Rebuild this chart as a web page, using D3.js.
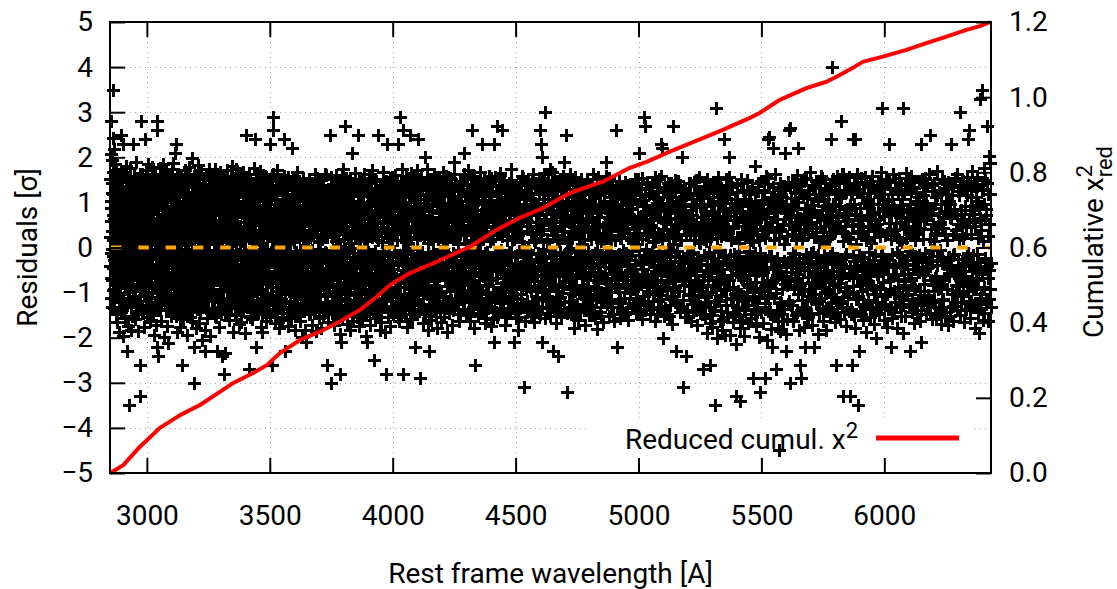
<!DOCTYPE html>
<html>
<head>
<meta charset="utf-8">
<script src="https://cdn.jsdelivr.net/npm/d3@7"></script>
<style>
  body { margin: 0; background: #fff; }
  svg { display: block; font-family: Roboto, "Noto Sans", sans-serif; }
</style>
</head>
<body>
<div id="chart"></div>
<script>
// fit residuals in hundredths of sigma, even spectral pixels (200 per block)
var residA = [
  152,-41,208,87,280,-113,36,194,-72,121,243,350,-18,167,-135,64,218,-92,11,185,
  -58,132,47,-147,96,-23,171,-166,73,5,-104,149,28,-79,113,-188,57,-31,162,-121,
  84,-9,137,-54,19,250,-142,101,-67,43,168,-27,-196,230,-113,77,12,-61,126,-38,
  54,-157,93,-14,181,-86,31,-124,146,-230,68,-45,117,2,-173,89,-98,38,-350,154,
  -21,109,-69,176,48,-132,7,139,-183,61,-37,124,-8,-151,82,230,-64,26,158,-109,
  45,-17,131,-96,71,-148,14,190,-33,98,-72,153,-4,-127,59,117,-185,34,-52,141,
  66,-118,-260,-330,107,-28,280,-81,22,164,-143,52,-11,128,-95,75,-62,149,9,-176,
  118,-43,240,-107,63,-19,172,-135,29,96,-77,141,-153,47,13,-99,186,-24,81,-129,
  35,-64,144,-6,-163,92,57,-111,124,-39,16,178,-87,66,-142,108,-15,41,-195,134,
  -52,87,-121,163,25,-78,115,-36,-171,260,280,-220,61,-240,138,-97,19,-58,147,-12
];
var residB = [
  128,-84,51,-139,176,9,-47,103,-162,68,-22,145,-116,37,186,-71,14,-198,92,-35,
  157,-126,43,-58,119,-9,168,-91,72,-174,27,134,-44,-212,81,-137,156,6,-66,112,
  -17,148,-104,58,-151,91,33,-79,174,-26,121,-145,64,-11,187,-93,39,-122,105,-57,
  210,-33,146,-118,230,76,-69,133,-15,-187,54,-101,162,21,-148,97,-42,118,-176,69,
  7,-94,153,-129,84,-21,126,-260,48,-67,142,-158,29,-39,112,-107,78,171,-84,13,
  -132,95,-12,163,-71,41,-195,124,-48,139,-116,62,-3,179,-88,23,-143,107,-54,151,
  -25,86,-125,34,136,-62,-164,198,-97,52,-14,-220,115,-300,72,-79,160,-131,45,-42,
  119,-178,66,-19,144,-113,31,-56,184,-86,98,-36,127,-167,58,-2,-141,104,-74,166,
  -31,133,-102,48,-205,91,16,-123,152,-61,118,-39,76,-184,-230,137,-49,27,-109,164,
  82,-156,43,-17,127,-134,69,-81,174,-24,113,-197,56,-64,141,-92,18,158,-118,37
];
var residC = [
  -47,121,-93,162,24,-138,78,-16,145,-109,56,-71,173,-28,98,-154,41,-60,-230,133,
  12,-117,149,-42,86,-176,61,-5,127,-96,167,-37,103,-148,29,-83,-240,142,-21,74,
  -128,158,-66,97,-10,-280,134,-51,-235,18,-143,112,-79,171,-34,65,-119,146,3,-90,
  124,-45,87,-161,36,107,-22,-135,159,-73,49,-8,181,-104,71,-56,137,-187,15,96,
  -63,139,-112,58,-28,174,-91,33,-149,117,-14,83,-127,163,-47,102,-170,22,131,-76,
  46,-103,152,-37,89,-166,14,128,-58,76,-140,167,-19,99,-121,43,-79,157,-7,-190,
  113,-52,250,-94,67,-131,27,-18,148,-85,57,-270,118,-41,163,-108,35,-65,141,-152,
  88,-26,124,-159,51,-72,135,-3,-116,176,-48,93,-134,28,240,-61,109,-220,-12,153,
  -98,71,-39,144,-145,16,-81,126,54,-122,169,-31,82,-177,39,-55,132,-94,6,-188,
  161,-67,105,-24,-139,87,-8,152,-113,44,-74,136,-162,62,21,-101,147,-43,78,-128
];
var residD = [
  64,-118,139,-42,97,230,-153,28,-74,112,-11,-260,156,-88,43,260,290,-136,79,-25,
  121,-61,14,-167,105,-33,148,-97,52,-142,171,-19,86,-113,31,-58,134,-179,68,-4,
  -126,93,-48,152,-84,27,-161,116,-15,73,-132,45,159,240,-67,108,-230,36,-102,141,
  -39,82,-145,19,127,-91,62,-8,-174,138,-54,97,-121,34,-69,147,-157,74,-23,220,
  -86,113,41,-139,156,-27,89,-108,12,-63,131,-182,57,-45,102,-129,168,-16,79,-95,
  143,-53,26,-146,94,-78,119,-31,-163,65,-9,137,-115,48,-198,82,-41,154,-122,37,
  -71,128,-106,17,-184,91,-24,-210,141,-57,66,-134,-13,118,-90,39,151,-72,98,-148,
  23,-117,134,-38,76,-171,52,-6,144,-98,31,-65,127,-139,88,-22,163,-111,47,-186,
  109,-44,71,-126,-3,149,-83,56,-157,124,-29,94,-105,15,137,-62,-178,81,-35,118,
  -151,68,-19,136,-92,42,-131,107,-56,164,-12,-143,85,-74,-260,126,-47,59,-165,99
];
var residE = [
  -58,124,-97,41,250,-133,86,-300,157,-21,109,-146,63,-6,138,-82,27,-172,115,-39,
  92,-125,161,-49,14,-103,146,-68,35,-158,128,-17,81,-117,52,-192,-280,74,-210,139,
  -43,107,-151,62,-11,173,-89,132,-36,-140,96,-64,270,-114,48,-23,153,-99,76,-169,
  118,-52,29,-128,144,-7,87,-184,61,-78,134,-33,102,-147,210,-56,119,-13,-162,83,
  37,-121,166,-72,24,-106,139,-45,93,-153,58,-29,250,-88,114,-174,46,-2,125,-135,
  -64,152,-18,98,-127,71,-160,33,117,-84,52,-149,162,-25,86,-111,19,-196,131,-47,
  -210,79,-138,46,-9,155,-101,124,-59,28,-171,94,-31,143,-118,63,-76,171,-15,104,
  -136,57,-250,113,-48,81,-157,26,-92,147,-64,39,-123,250,-37,105,-143,67,-19,-182,
  129,-82,44,-166,97,-27,136,-112,55,-8,168,-131,71,-53,113,-187,32,-69,-280,148,
  -96,230,-39,118,-154,61,-14,139,-103,84,-175,27,155,-62,96,-129,43,-34,121,-147
];
var residF = [
  133,-58,87,-142,29,-96,161,-17,112,-125,54,-71,148,-38,95,230,-163,68,-22,137,
  -109,290,43,-152,119,-66,174,-31,82,260,-280,136,-88,17,-134,101,-49,158,-118,61,
  -7,124,-176,72,-44,143,-101,35,-63,250,-139,92,-26,165,-82,47,-158,113,-12,79,
  -121,148,-55,-220,106,-33,129,-147,64,-4,171,-93,38,240,-116,85,-61,152,-290,31,
  117,-74,156,-128,49,-19,134,-105,73,-167,22,-46,142,200,-89,61,-138,108,-28,173,
  -61,93,-184,35,127,-230,-112,68,-37,149,-96,18,-161,116,-52,84,-129,44,-8,137,
  -83,162,-29,106,-142,57,-71,131,-14,-179,92,-48,151,-106,26,-124,79,-58,143,-166,
  38,-99,121,-35,167,-118,66,-11,-154,98,-67,138,-131,47,-24,159,-86,12,-187,114,
  -42,73,-145,126,-63,33,-113,152,-26,94,-171,56,-78,131,-139,21,-51,164,190,-97,
  103,-126,45,-16,136,-91,69,-147,114,-38,82,-162,27,-59,145,-104,58,-33,126,-73
];
var residG = [
  92,-137,46,-18,163,210,-84,118,-52,27,-149,87,-31,141,-107,64,-9,172,-121,38,
  -66,129,-163,73,-24,154,-97,260,41,-132,108,-58,17,-178,96,-260,-41,147,-114,56,
  126,-29,83,-152,34,-71,139,-118,62,-7,168,-96,49,-145,114,230,-63,22,-126,153,
  -38,97,-168,61,-13,142,-104,76,-57,131,-134,25,-86,116,-47,158,-119,68,-30,-175,
  105,-73,136,-21,48,-159,92,230,-210,64,-112,157,-36,89,-143,270,-68,121,-17,-148,
  78,-46,139,-124,31,166,-92,54,-18,260,-137,73,-59,148,-107,36,-171,111,-27,84,
  -155,124,-63,17,-121,95,-38,142,-82,58,-146,113,-11,173,-98,43,-67,137,-129,26,
  92,-52,-210,118,-34,71,-157,136,-16,89,-113,51,-184,127,-44,97,-135,63,-8,145,
  -103,36,-69,158,-127,81,-22,-310,115,-48,67,-162,138,-31,94,-119,58,-74,151,-5,
  119,-141,47,-87,133,-26,74,-152,105,-58,29,-124,163,-41,86,-166,12,-63,142,-95
];
var residH = [
  48,-113,137,-62,91,-28,154,-146,73,-15,260,-88,230,41,200,-131,-210,107,-45,162,
  -97,64,-21,300,-157,83,-39,128,-108,19,-72,145,-135,52,-4,173,-118,96,-56,38,
  121,-81,167,-34,-230,103,-139,59,-12,148,-96,27,-168,114,-49,81,-127,-240,136,-63,
  15,-109,152,-42,74,-154,98,-26,133,-87,47,-17,190,-136,62,-74,119,250,-51,86,
  -320,142,-31,101,-119,58,-8,163,-91,34,-147,117,-65,23,138,-104,71,-178,45,-23,
  156,-84,29,-128,112,-42,88,-161,66,-11,131,-99,42,-143,106,-57,149,-19,77,-131,
  53,-68,124,-14,-172,97,-36,141,-112,61,-85,152,-27,83,-149,36,-62,126,-104,18,
  138,-45,91,-133,57,-21,164,-94,32,-156,109,-72,45,-117,151,-6,-181,85,-39,122,
  -56,33,-144,117,-17,78,-121,143,-64,26,-166,99,-33,136,-101,52,-79,158,190,-125,
  67,-11,132,-89,41,-151,104,-46,86,-114,22,-58,147,-132,74,-27,118,-163,55,-87
];
var residI = [
  114,-67,260,-31,-220,92,-123,48,-14,137,-98,71,-156,24,119,-42,83,-135,56,-9,
  128,-112,37,-64,146,-24,95,-143,62,-87,108,-19,-161,74,-38,134,-101,21,-72,117,
  -53,88,-129,13,141,-93,57,-27,124,-146,43,-62,97,-114,31,152,-76,-5,210,-121,
  66,-34,132,-81,19,-159,106,-47,79,-125,290,54,270,-16,-137,93,-58,141,-88,28,
  -104,118,-23,71,-148,46,-69,135,-11,87,-131,61,-39,146,-96,14,-162,109,-52,83,
  125,-77,33,-118,98,-8,152,-106,67,230,-29,220,-141,93,-200,39,-85,128,-17,61,
  -134,84,-49,113,-92,27,142,-63,-151,76,-31,119,-108,52,-6,-169,97,270,-74,42,
  134,-116,65,-22,-230,101,-57,29,-128,148,-41,82,-97,17,139,-142,56,-64,111,200,
  -35,91,-310,125,-84,48,-153,73,-240,116,-19,-138,63,-46,143,-102,27,-71,121,-162,
  84,-28,108,-143,57,-9,136,-88,37,-119,95,-52,149,-171,46,-36,117,-97,12,-131
];
var residJ = [
  97,-142,53,-28,126,-87,41,-270,109,-63,18,-156,132,-104,74,-189,-36,147,-121,62,
  -13,113,-167,-260,-52,139,-98,29,-176,104,-41,71,-138,-84,146,-350,310,57,-201,123,
  82,-118,157,-47,96,-162,36,-108,131,-69,-183,115,-16,88,240,-66,64,-193,-93,151,
  -37,121,-155,-73,42,200,136,-17,-193,98,-61,144,-112,23,-114,-166,79,-34,107,-148,
  61,-330,-214,138,-44,94,-132,93,-11,-178,-340,-56,152,-103,34,-161,127,-72,-196,48,
  -31,104,-139,63,-25,149,-117,82,-168,55,-88,126,-81,17,-156,97,-43,134,-290,71,
  -108,38,-147,180,-62,92,-175,29,-124,143,-35,-199,84,-96,-320,-13,-142,67,-57,106,
  -54,-167,123,-24,-290,47,-131,158,-28,-205,76,240,141,245,-89,101,-148,56,-19,-181,
  -220,-77,220,-152,93,111,-46,163,-101,-270,-139,79,-178,-62,127,-450,104,-186,42,-123,
  119,-164,-69,136,-163,88,-31,137,210,64,-230,-192,84,-84,145,-125,53,260,-300,265
];
var residK = [
  73,-128,146,-41,92,-163,28,-87,134,-15,109,-149,57,-72,161,220,-104,38,-182,121,
  -260,66,-290,143,-93,17,-137,112,-49,-176,-220,85,-24,154,-118,41,-65,128,-155,79,
  -31,167,-107,52,-12,139,-171,94,-58,23,-220,118,-83,147,-39,71,-126,-191,102,-16,
  131,-145,46,-68,158,-112,84,-29,-163,116,-51,7,142,-99,63,-184,127,-37,89,-131,
  54,-76,-152,137,-18,240,-123,81,400,-61,152,-109,33,-166,96,-260,119,-44,-142,68,
  -87,145,-26,109,-158,280,-68,37,-119,163,-330,-45,124,-97,58,-174,143,-14,86,-136,
  21,-103,156,-62,-330,94,-147,118,-260,47,240,-86,139,-31,-178,240,-115,72,-52,164,
  -350,33,-230,127,-141,88,-21,153,-96,61,-161,112,-38,-129,145,-72,19,-187,104,-54,
  136,-117,68,-9,-155,121,-83,47,-136,159,-28,96,-169,74,-47,128,-104,-200,52,-121,
  148,-64,113,-146,35,-93,167,-18,310,-125,81,-52,137,-161,27,-108,152,-37,94,-176
];
var residL = [
  88,-136,54,230,-71,129,-220,18,-157,107,-44,163,-96,39,-121,146,-62,81,-178,24,
  121,-89,-17,154,-132,68,-43,138,-109,12,-190,310,-74,119,-151,47,-28,165,-102,86,
  -58,142,-126,33,-230,97,-67,159,-14,-143,76,-39,131,-168,58,-91,124,-22,-139,103,
  37,-117,148,-55,91,-162,-210,230,-33,116,-127,62,-81,154,-12,-148,99,-46,137,-106,
  73,-29,164,250,-119,41,-71,126,-158,87,-5,143,-96,28,-133,111,-64,169,-38,-147,
  124,-82,56,-141,-170,97,-23,152,-114,44,-68,131,-155,79,-36,118,-92,16,-172,145,
  -48,102,-131,67,230,-104,138,-17,-163,86,-57,149,-121,31,-84,162,-139,53,-26,117,
  -96,300,-149,74,-41,135,-108,22,-165,127,-63,91,-137,48,-19,156,240,-78,260,-124,
  83,-157,112,-34,169,-92,57,-128,141,-46,-179,104,-67,137,-15,-142,94,-190,330,-113,
  62,-136,350,-58,-160,127,-88,176,-23,149,-117,72,270,-164,118,-49,203,-92,187,-131
];

// fit residuals in hundredths of sigma, odd spectral pixels (200 per block)
var oddA = [
  23,-67,104,-12,58,-131,87,-3,142,-46,71,-95,16,119,-28,63,-112,37,156,-74,
  8,95,-58,131,-19,44,-147,76,-36,113,2,-84,149,-61,27,-119,82,-7,137,-42,
  66,-104,18,123,-51,91,-15,-138,54,-26,148,-79,33,-9,106,-125,71,-48,14,161,
  -88,39,-21,117,-62,84,-133,6,97,-34,145,-71,52,-116,28,-4,129,-57,79,-99,
  11,153,-43,68,-127,96,-18,41,-152,109,-65,24,-6,138,-93,56,-31,121,-108,47,
  -14,86,-159,33,115,-49,72,-2,-121,61,134,-37,93,-84,19,-143,104,-23,57,-68,
  132,-11,49,-97,164,-56,25,-130,81,-39,7,118,-75,43,-146,98,-17,63,-106,29,
  -52,107,-24,146,-88,12,71,-118,39,-61,157,-33,88,-9,-136,52,114,-79,26,-45,
  94,-128,38,-15,126,-67,81,-42,5,139,-101,58,-26,103,-149,17,74,-53,145,-89,
  31,-6,118,-76,49,-135,92,-21,63,-112,151,-44,13,85,-62,127,-98,36,-18,109
];
var oddB = [
  -71,45,-128,97,-8,136,-54,22,-97,74,-35,154,-116,61,-13,103,-82,29,142,-59,
  17,-110,83,-27,126,-64,48,-139,11,91,-46,117,-5,-92,66,-31,148,-121,38,76,
  -19,132,-83,54,-144,21,107,-57,84,-12,-126,69,-38,141,-75,26,-103,93,-4,118,
  52,-66,15,-151,98,-24,71,-109,37,163,-43,86,-134,9,112,-71,44,-17,129,-90,
  -33,123,-58,81,-3,-117,146,-39,64,-86,27,-149,103,-22,77,-61,138,-97,14,55,
  88,-14,-105,42,119,-73,31,-128,95,-47,6,134,-88,58,-26,101,-153,19,72,-41,
  146,-92,23,-55,87,-12,-139,64,-31,115,-76,39,158,-49,13,-118,82,-7,48,-101,
  -62,28,111,-84,57,-137,18,-23,92,-66,143,-28,71,-112,36,-52,124,-91,3,79,
  124,-47,66,-9,-123,87,-38,152,-69,21,-96,58,-14,133,-81,47,-135,109,-27,61,
  -5,94,-76,35,-142,118,-21,73,-58,13,127,-104,42,-33,97,-146,62,-18,149,-63
];
var oddC = [
  57,-98,21,134,-43,76,-117,9,102,-64,38,-151,88,-25,127,-72,46,-8,159,-106,
  -37,113,-69,28,-133,94,-16,61,-97,141,-48,17,-121,73,-3,118,-83,52,-29,136,
  -112,44,-14,103,-76,158,-39,26,-143,69,-58,121,4,-89,97,-22,137,-66,31,-125,
  79,-31,142,-95,18,-57,124,-11,63,-128,87,-44,13,151,-79,36,-107,98,-19,55,
  -84,126,-27,59,-148,92,-6,-113,71,-36,138,-62,24,-95,113,-15,48,-131,86,7,
  41,-73,165,-21,83,-119,33,-54,147,-88,16,-139,104,-47,68,-9,-101,129,-64,25,
  114,-58,39,-126,91,-17,-72,136,-42,57,-114,22,-31,148,-86,74,-153,43,-12,99,
  -45,86,-108,14,127,-67,52,-141,96,-23,-61,118,-93,37,-4,153,-74,61,-129,28,
  67,-136,103,-38,21,-92,144,-51,82,-16,135,-77,9,-116,59,-28,119,-64,36,-147,
  -21,72,-53,131,-102,46,-11,94,-137,63,-42,156,-81,28,-124,88,-6,-59,112,-33
];
var oddD = [
  96,-24,51,-142,117,-68,32,-105,74,-13,139,-87,45,-26,162,-116,58,-41,83,-3,
  -121,64,-37,128,-79,19,-146,97,-52,8,121,-96,41,-18,134,-63,87,-132,26,-49,
  73,-7,143,-114,36,-59,108,-28,65,-153,92,-33,14,127,-84,51,-122,6,149,-71,
  -36,118,-91,47,-12,156,-64,29,-137,83,-45,104,-8,-118,61,-27,145,-99,37,-56,
  129,-82,18,-134,94,-21,67,-106,41,-73,152,-36,88,-11,-127,72,-49,113,-93,24,
  -63,147,-29,78,-151,55,-5,122,-87,34,-112,69,-17,141,-58,93,-138,16,-42,107,
  38,-97,124,-16,62,-129,86,-44,3,-109,137,-66,21,-83,115,-31,58,-147,99,-12,
  142,-53,27,-118,71,-7,-136,93,-38,54,-91,126,-24,68,-143,39,-76,112,-19,84,
  -104,31,-63,154,-27,89,-121,12,103,-48,-15,131,-94,47,-131,76,-34,138,-68,19,
  57,-144,98,-22,116,-77,43,-10,-126,85,-53,161,-35,92,-108,24,-87,129,-46,66
];
var oddE = [
  -28,109,-73,36,-136,82,-14,151,-59,23,-118,94,-41,67,-8,-145,121,-33,48,-97,
  136,-19,61,-127,89,-52,14,-101,142,-65,29,-138,107,-24,79,-86,3,124,-57,41,
  -113,72,-34,158,-92,47,-146,18,-66,113,-21,85,-134,56,-9,128,-77,32,-119,93,
  26,-61,137,-13,-104,67,-39,149,-83,11,-127,98,-46,74,-152,38,-2,116,-71,59,
  -89,143,-25,52,-117,91,-57,22,135,-68,44,-139,103,-16,-81,147,-35,64,-111,17,
  101,-43,76,-152,29,-93,118,-27,55,-131,86,-4,-64,139,-98,31,-145,82,-18,123,
  -56,14,-128,97,-33,146,-71,49,-15,-108,68,-47,131,-91,23,-137,104,-26,57,-82,
  118,-96,39,-7,151,-62,84,-129,27,-44,112,-88,16,-155,71,-21,96,-58,135,-37,
  -19,128,-74,46,-141,13,92,-65,139,-31,58,-116,81,-12,-94,121,-47,34,-133,76,
  43,-87,115,-29,68,-142,4,101,-53,136,-79,24,-119,63,-38,157,-102,18,-61,94
];
var oddF = [
  -48,126,-11,83,-139,57,-95,34,148,-68,17,-122,91,-35,64,-153,109,-22,41,-87,
  72,-104,29,-61,143,-18,96,-133,52,-6,117,-79,38,-147,86,-27,131,-54,13,-112,
  154,-33,67,-126,8,-71,112,-42,89,-158,24,-93,137,-15,58,-108,74,-49,125,-2,
  -79,36,-143,101,-24,62,-117,149,-56,19,-98,83,-37,128,-64,45,-141,97,-13,66,
  28,-125,88,-47,134,-9,-86,55,-131,107,-21,71,-148,39,-68,116,-31,92,-104,147,
  -63,11,119,-92,46,-152,81,-26,141,-58,23,-113,96,-41,65,-137,14,128,-75,37,
  109,-87,32,-14,157,-118,49,-66,93,-29,136,-101,18,-52,76,-143,61,-8,122,-34,
  -96,54,-129,83,-3,114,-61,27,-154,98,-43,12,-107,145,-72,39,-124,88,-17,63,
  41,-141,97,-32,68,-84,153,-23,-116,74,-55,132,-12,91,-137,26,-69,109,-44,18,
  -113,86,-27,138,-76,51,-119,7,94,-45,127,-91,62,-148,34,-18,103,-63,146,-81
];
var oddG = [
  62,-16,138,-94,27,-121,78,-43,152,-69,11,-107,86,-31,124,-84,49,-149,93,-5,
  -38,111,-76,43,-137,17,96,-58,134,-22,-103,72,-46,159,-91,28,-126,63,-12,118,
  -87,52,-149,8,106,-63,31,-118,144,-37,74,-95,21,-133,99,-54,128,-18,67,-141,
  33,-71,122,-27,81,-156,46,-9,-112,137,-83,56,-36,114,-68,14,-132,91,-48,153,
  -121,94,-52,18,-98,147,-26,63,-141,79,-14,126,-67,38,-155,103,-41,72,-109,29,
  84,-34,161,-117,55,-6,-88,121,-47,26,-134,97,-19,144,-78,41,-113,62,-28,131,
  -64,127,-22,89,-146,36,-79,113,-11,58,-124,83,-39,149,-97,17,-57,106,-131,45,
  19,-103,76,-137,42,-18,135,-86,64,-44,118,-153,27,-71,92,-9,141,-62,33,-115,
  128,-51,13,-92,153,-32,71,-126,4,-83,107,-58,139,-21,48,-144,86,-37,117,-69,
  -26,79,-138,57,-15,121,-97,34,-61,146,-43,88,-119,16,-74,132,-53,98,-143,22
];
var oddH = [
  71,-129,44,-13,136,-86,57,-32,118,-147,29,-64,153,-21,87,-109,38,-3,124,-78,
  -52,98,-24,141,-117,63,-41,12,-134,89,-68,116,-7,-93,49,-151,127,-36,74,-19,
  133,-61,27,-124,91,-16,149,-83,42,-56,105,-28,68,-142,19,-97,136,-45,83,-112,
  -9,56,-137,114,-34,78,-101,24,-63,159,-88,37,-121,92,-14,-76,129,-51,11,-145,
  66,-27,102,-71,147,-43,18,-131,84,-2,-118,57,-39,138,-86,31,-155,96,-22,113,
  -97,143,-58,36,-126,71,-11,108,-49,26,-139,94,-31,62,-104,151,-67,8,-83,121,
  48,-113,16,-46,127,-92,59,-138,83,-19,145,-72,34,-7,-117,101,-54,76,-128,37,
  -34,88,-149,61,-26,119,-64,42,-141,97,-13,133,-87,23,-109,68,-41,156,-76,52,
  117,-38,79,-106,14,-152,93,-29,136,-68,46,-121,9,88,-57,124,-96,31,-17,143,
  -71,27,-118,65,-43,154,-82,37,-8,111,-131,58,-24,97,-147,73,-36,128,-59,16
];
var oddI = [
  94,-47,131,-18,62,-123,37,-89,148,-54,21,-116,82,-33,107,-141,58,-6,126,-71,
  -28,116,-81,43,-147,74,-12,99,-58,139,-36,21,-122,86,-49,133,-97,16,67,-134,
  53,-8,138,-91,26,-64,117,-39,152,-111,44,-73,8,129,-86,61,-143,33,-17,104,
  -127,69,-36,154,-59,18,-108,91,-24,47,-139,114,-63,28,-4,146,-81,52,-118,83,
  38,-96,121,-14,77,-133,49,-27,141,-66,12,-101,94,-43,156,-87,24,-54,113,-148,
  -62,107,-21,68,-137,92,-46,31,-114,158,-73,17,-92,123,-38,59,-152,86,-9,134,
  126,-33,54,-148,97,-11,-79,113,-56,22,-127,78,-41,144,-68,36,-112,7,89,-94,
  -41,149,-88,23,-119,64,-7,136,-96,48,-64,102,-18,-131,84,-52,17,124,-73,57,
  82,-116,43,-27,131,-74,96,-141,28,-59,118,-12,71,-154,39,-86,142,-31,63,-106,
  -15,73,-126,108,-48,16,-93,147,-62,34,-138,89,-23,121,-78,46,-109,157,-37,11
];
var oddJ = [
  -84,116,-39,67,-148,28,93,-61,137,-17,44,-126,82,-53,14,-104,151,-72,36,-9,
  121,-57,18,-132,96,-24,63,-149,41,-86,128,-11,77,-118,49,-37,143,-92,22,-66,
  -31,94,-117,52,-6,139,-78,26,-141,103,-47,68,-159,31,-94,117,-21,84,-128,47,
  69,-143,36,-28,118,-71,157,-39,82,-113,16,-62,134,-88,43,-127,61,-14,97,-104,
  -48,82,-131,124,-19,56,-96,11,-152,76,-34,143,-66,29,-118,91,-43,64,-137,108,
  24,-109,67,-41,146,-82,33,-128,91,-7,-61,119,-36,74,-147,52,-23,131,-98,13,
  -137,58,-13,103,-76,42,-144,89,-29,126,-53,17,-111,64,-38,148,-93,31,-62,84,
  97,-26,128,-89,21,-123,67,-44,154,-72,38,-106,86,-18,-139,57,-84,112,-31,46,
  -72,134,-48,16,-113,79,-152,34,-67,107,-24,63,-146,96,-39,21,-121,143,-57,88,
  36,-91,112,-63,49,-136,8,-82,129,-44,97,-158,26,-74,138,-33,68,-119,84,-23
];
var oddK = [
  109,-54,31,-127,86,-12,143,-91,47,-68,124,-36,17,-142,73,-59,101,-24,136,-83,
  -46,128,-79,22,-116,64,-33,151,-96,38,-131,87,-14,66,-157,109,-43,29,-92,118,
  57,-21,94,-148,43,-76,132,-9,-104,81,-52,139,-87,26,-123,68,-37,147,-64,12,
  -118,73,-44,116,-27,153,-89,35,-141,62,-16,108,-73,47,-134,91,-58,19,122,-98,
  84,-137,26,-61,139,-103,58,-12,97,-146,38,-84,127,-29,71,-116,44,-53,158,-66,
  -28,92,-124,48,-79,113,-37,164,-58,14,-109,76,-143,33,-21,128,-88,59,-131,23,
  63,-98,137,-42,19,-136,84,-57,121,-18,49,-152,96,-31,74,-112,8,-67,141,-46,
  -107,51,-16,129,-83,37,-147,68,-24,112,-62,29,-126,98,-44,156,-77,16,-93,71,
  45,-121,88,-35,148,-64,11,-133,79,-49,134,-86,23,-102,61,-17,127,-139,42,-58,
  97,-38,63,-147,26,-89,118,-52,141,-14,-76,105,-31,69,-128,87,-43,152,-104,32
];
var oddL = [
  -59,104,-27,148,-91,38,-136,72,-15,119,-63,29,-144,86,-42,131,-98,54,-11,77,
  123,-69,16,-112,94,-34,57,-151,108,-22,79,-127,41,-58,139,-83,22,-106,66,-37,
  -94,47,-133,81,-8,126,-71,34,-117,62,-39,145,-86,17,-124,98,-47,73,-148,29,
  58,-16,111,-97,43,-139,76,-24,152,-61,18,-109,87,-52,134,-33,64,-128,92,-44,
  -112,86,-41,19,-146,73,-28,138,-83,51,-121,14,96,-67,33,-155,117,-19,48,-91,
  76,-134,52,-6,121,-89,43,-117,68,-31,147,-72,27,-143,104,-46,81,-23,129,-63,
  -21,97,-152,66,-38,116,-94,31,-129,84,-14,153,-62,38,-107,72,-49,126,-86,18,
  134,-46,83,-121,27,-68,148,-103,59,-26,91,-139,46,-81,117,-12,-96,64,-37,141,
  -77,29,-118,93,-52,136,-17,74,-131,48,-89,112,-33,157,-71,21,-126,88,-44,66,
  38,-103,129,-57,14,-146,97,-29,63,-122,86,-41,142,-68,26,-114,51,-93,118,-34
];

// spectral pixel grid (log-linear sampling) in Angstrom
var lamStart = 2851, lamEnd = 6434;

// reduced cumulative chi^2 curve
var chiWave = [2851,2904,2972,3053,3135,3216,3297,3350,3432,3488,3541,3623,3704,3785,3867,3935,
  3989,4070,4179,4314,4423,4517,4611,4721,4855,4965,5033,5127,5262,5343,5453,5493,5575,5683,
  5765,5819,5872,5912,5994,6090,6171,6253,6334,6388,6432];
var chiVal = [0.0,0.021,0.070,0.120,0.154,0.181,0.216,0.239,0.266,0.287,0.319,0.354,0.376,0.403,
  0.434,0.469,0.500,0.532,0.562,0.602,0.647,0.679,0.705,0.745,0.775,0.812,0.828,0.855,0.891,
  0.913,0.945,0.958,0.993,1.024,1.041,1.059,1.078,1.094,1.108,1.126,1.144,1.161,1.179,1.189,1.200];

var xTicks = [3000, 3500, 4000, 4500, 5000, 5500, 6000];
var yTicks = [-5, -4, -3, -2, -1, 0, 1, 2, 3, 4, 5];
var y2Ticks = [0, 0.2, 0.4, 0.6, 0.8, 1.0, 1.2];

var margin = {top: 22, right: 126, bottom: 116, left: 110},
    width = 1117 - margin.left - margin.right,
    height = 589 - margin.top - margin.bottom;

var x = d3.scaleLinear().domain([2850, 6434]).range([0, width]);
var y = d3.scaleLinear().domain([-5, 5]).range([height, 0]);
var y2 = d3.scaleLinear().domain([0, 1.2]).range([height, 0]);

var even = [].concat(residA, residB, residC, residD, residE, residF,
                     residG, residH, residI, residJ, residK, residL);
var odd = [].concat(oddA, oddB, oddC, oddD, oddE, oddF,
                    oddG, oddH, oddI, oddJ, oddK, oddL);
var resid = [];
even.forEach(function(v, k) {
  resid.push(v);
  if (k < odd.length) resid.push(odd[k]);
});
var n = resid.length;
var points = resid.map(function(r, i) {
  return { lam: lamStart * Math.pow(lamEnd / lamStart, i / (n - 1)), res: r / 100 };
});
var chi = chiWave.map(function(w, i) { return { lam: w, v: chiVal[i] }; });

var svg = d3.select("#chart").append("svg")
    .attr("width", 1117)
    .attr("height", 589);
svg.append("rect").attr("width", 1117).attr("height", 589).attr("fill", "#fff");

var g = svg.append("g")
    .attr("transform", "translate(" + margin.left + "," + margin.top + ")");

// grid
var grid = g.append("g").attr("stroke", "#a0a0a0").attr("stroke-width", 1).attr("stroke-dasharray", "1,4");
grid.selectAll(".gx").data(xTicks).enter().append("line")
    .attr("x1", function(d) { return Math.round(x(d)) + 0.5; })
    .attr("x2", function(d) { return Math.round(x(d)) + 0.5; })
    .attr("y1", 0).attr("y2", height);
grid.selectAll(".gy").data(yTicks.slice(1, -1)).enter().append("line")
    .attr("y1", function(d) { return Math.round(y(d)) + 0.5; })
    .attr("y2", function(d) { return Math.round(y(d)) + 0.5; })
    .attr("x1", 0).attr("x2", width);

// opaque key box
g.append("rect")
    .attr("x", 478).attr("y", 396).attr("width", 385).attr("height", height - 396)
    .attr("fill", "#fff");

// residual points
g.append("g")
    .attr("shape-rendering", "crispEdges")
    .selectAll("path")
    .data(points)
    .enter().append("path")
    .attr("d", "M-6.5,0H6.5M0,-6.5V6.5")
    .attr("transform", function(d) {
      return "translate(" + Math.round(x(d.lam)) + "," + Math.round(y(d.res)) + ")";
    })
    .attr("stroke", "#000")
    .attr("stroke-width", 3)
    .attr("fill", "none");

// zero line
g.append("line")
    .attr("x1", 1).attr("x2", width)
    .attr("y1", y(0)).attr("y2", y(0))
    .attr("stroke", "#ffa500")
    .attr("stroke-width", 4)
    .attr("stroke-dasharray", "10.5,16.8");

// cumulative chi^2
g.append("path")
    .datum(chi)
    .attr("d", d3.line().x(function(d) { return x(d.lam); }).y(function(d) { return y2(d.v); }))
    .attr("fill", "none")
    .attr("stroke", "#ff0000")
    .attr("stroke-width", 4)
    .attr("stroke-linejoin", "round");

// axes
function styleAxis(sel) {
  sel.select(".domain").remove();
  sel.selectAll("line").attr("stroke", "#000").attr("stroke-width", 2);
  sel.selectAll("text").attr("fill", "#000").style("font-size", "28px").style("font-family", "Roboto, sans-serif");
}
g.append("g")
    .attr("transform", "translate(0," + height + ")")
    .call(d3.axisBottom(x).tickValues(xTicks).tickSize(-15).tickPadding(32).tickFormat(d3.format("d")))
    .call(styleAxis);
g.append("g")
    .call(d3.axisTop(x).tickValues(xTicks).tickSize(-15).tickFormat(""))
    .call(styleAxis);
g.append("g")
    .call(d3.axisLeft(y).tickValues(yTicks).tickSize(-15).tickPadding(17).tickFormat(d3.format("d")))
    .call(styleAxis);
g.append("g")
    .attr("transform", "translate(" + width + ",0)")
    .call(d3.axisRight(y2).tickValues(y2Ticks).tickSize(-15).tickPadding(18).tickFormat(d3.format(".1f")))
    .call(styleAxis);

// frame
g.append("rect")
    .attr("width", width).attr("height", height)
    .attr("fill", "none").attr("stroke", "#000").attr("stroke-width", 2);

// key
var key = g.append("g");
var keyText = key.append("text")
    .attr("x", 748).attr("y", 427)
    .attr("text-anchor", "end")
    .style("font-size", "28px");
keyText.append("tspan").text("Reduced cumul. x");
keyText.append("tspan").attr("dy", -11).style("font-size", "22px").text("2");
key.append("line")
    .attr("x1", 766).attr("x2", 849).attr("y1", 416).attr("y2", 416)
    .attr("stroke", "#ff0000").attr("stroke-width", 5);

// axis titles
svg.append("text")
    .attr("x", margin.left + width / 2).attr("y", 583)
    .attr("text-anchor", "middle")
    .style("font-size", "28px")
    .text("Rest frame wavelength [A]");

svg.append("text")
    .attr("transform", "translate(37," + (margin.top + height / 2) + ") rotate(-90)")
    .attr("text-anchor", "middle")
    .style("font-size", "28px")
    .text("Residuals [σ]");

var rt = svg.append("g").attr("transform", "translate(1103,242) rotate(-90)");
var main = rt.append("text").style("font-size", "28px").text("Cumulative x");
var sup = rt.append("text").style("font-size", "22px").attr("y", -11).text("2");
var sub = rt.append("text").style("font-size", "22px").attr("y", 9).text("red");
var w1 = main.node().getComputedTextLength();
var w2 = Math.max(sup.node().getComputedTextLength(), sub.node().getComputedTextLength());
var start = -(w1 + w2) / 2;
main.attr("x", start);
sup.attr("x", start + w1);
sub.attr("x", start + w1);
</script>
</body>
</html>
